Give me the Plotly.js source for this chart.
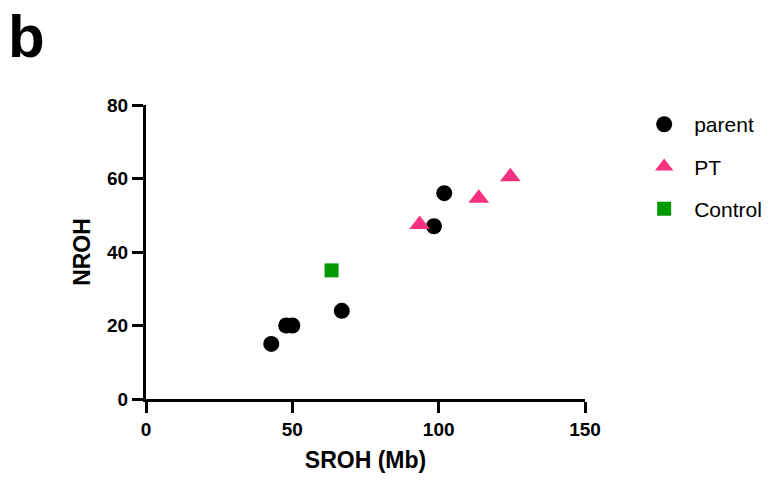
<!DOCTYPE html>
<html>
<head>
<meta charset="utf-8">
<script src="https://cdn.plot.ly/plotly-3.0.1.min.js"></script>
<style>html,body{margin:0;padding:0;background:#fff;}#chart{width:783px;height:480px;}</style>
</head>
<body>
<div id="chart"></div>
<script>
const parentX = [42.8, 47.9, 50.0, 66.9, 98.4, 101.9];
const parentY = [15, 20, 20, 24, 47, 56];
const ptX = [93.5, 113.7, 124.5];
const ptY = [47.5, 54.6, 60.5];
const controlX = [63.4];
const controlY = [35];
const xTicks = [0, 50, 100, 150];
const yTicks = [0, 20, 40, 60, 80];

const F = 'Liberation Sans, Arial, sans-serif';
const traces = [
  {x: parentX, y: parentY, name: 'parent', type: 'scatter', mode: 'markers', legendgroup: 'a',
   marker: {symbol: 'circle', size: 16, color: '#000000'}},
  {x: ptX, y: ptY, name: 'PT', type: 'scatter', mode: 'markers', legendgroup: 'b',
   marker: {symbol: 'triangle-up', size: 18, color: '#F7307F'}},
  {x: controlX, y: controlY, name: 'Control', type: 'scatter', mode: 'markers', legendgroup: 'c',
   marker: {symbol: 'square', size: 14, color: '#009900'}}
];
const axisCommon = {
  showgrid: false, zeroline: false, showline: true, linecolor: '#000', linewidth: 3,
  ticks: 'outside', ticklen: 11, tickwidth: 3, tickcolor: '#000',
  tickfont: {family: F, size: 19, color: '#000', weight: 'bold'}
};
const layout = {
  width: 783, height: 480,
  margin: {l: 146, r: 198, t: 105, b: 81},
  paper_bgcolor: '#fff', plot_bgcolor: '#fff',
  font: {family: F, color: '#000'},
  xaxis: Object.assign({}, axisCommon, {range: [0, 150], tickvals: xTicks, ticktext: xTicks.map(String),
    title: {text: 'SROH (Mb)', font: {family: F, size: 23, color: '#000', weight: 'bold'}, standoff: 14}}),
  yaxis: Object.assign({}, axisCommon, {range: [0, 80], tickvals: yTicks, ticktext: yTicks.map(String),
    title: {text: 'NROH', font: {family: F, size: 23, color: '#000', weight: 'bold'}, standoff: 11}}),
  showlegend: true,
  legend: {x: 1.112, y: 1.003, xanchor: 'left', yanchor: 'top', tracegroupgap: 12, itemwidth: 50,
    font: {family: F, size: 21, color: '#000'}, bgcolor: 'rgba(0,0,0,0)'},
  annotations: [{text: '<b>b</b>', xref: 'paper', yref: 'paper', x: -0.318, y: 1.355,
    xanchor: 'left', yanchor: 'top', showarrow: false, font: {family: F, size: 60, color: '#000'}}]
};
Plotly.newPlot('chart', traces, layout, {displayModeBar: false, staticPlot: true});
</script>
</body>
</html>
